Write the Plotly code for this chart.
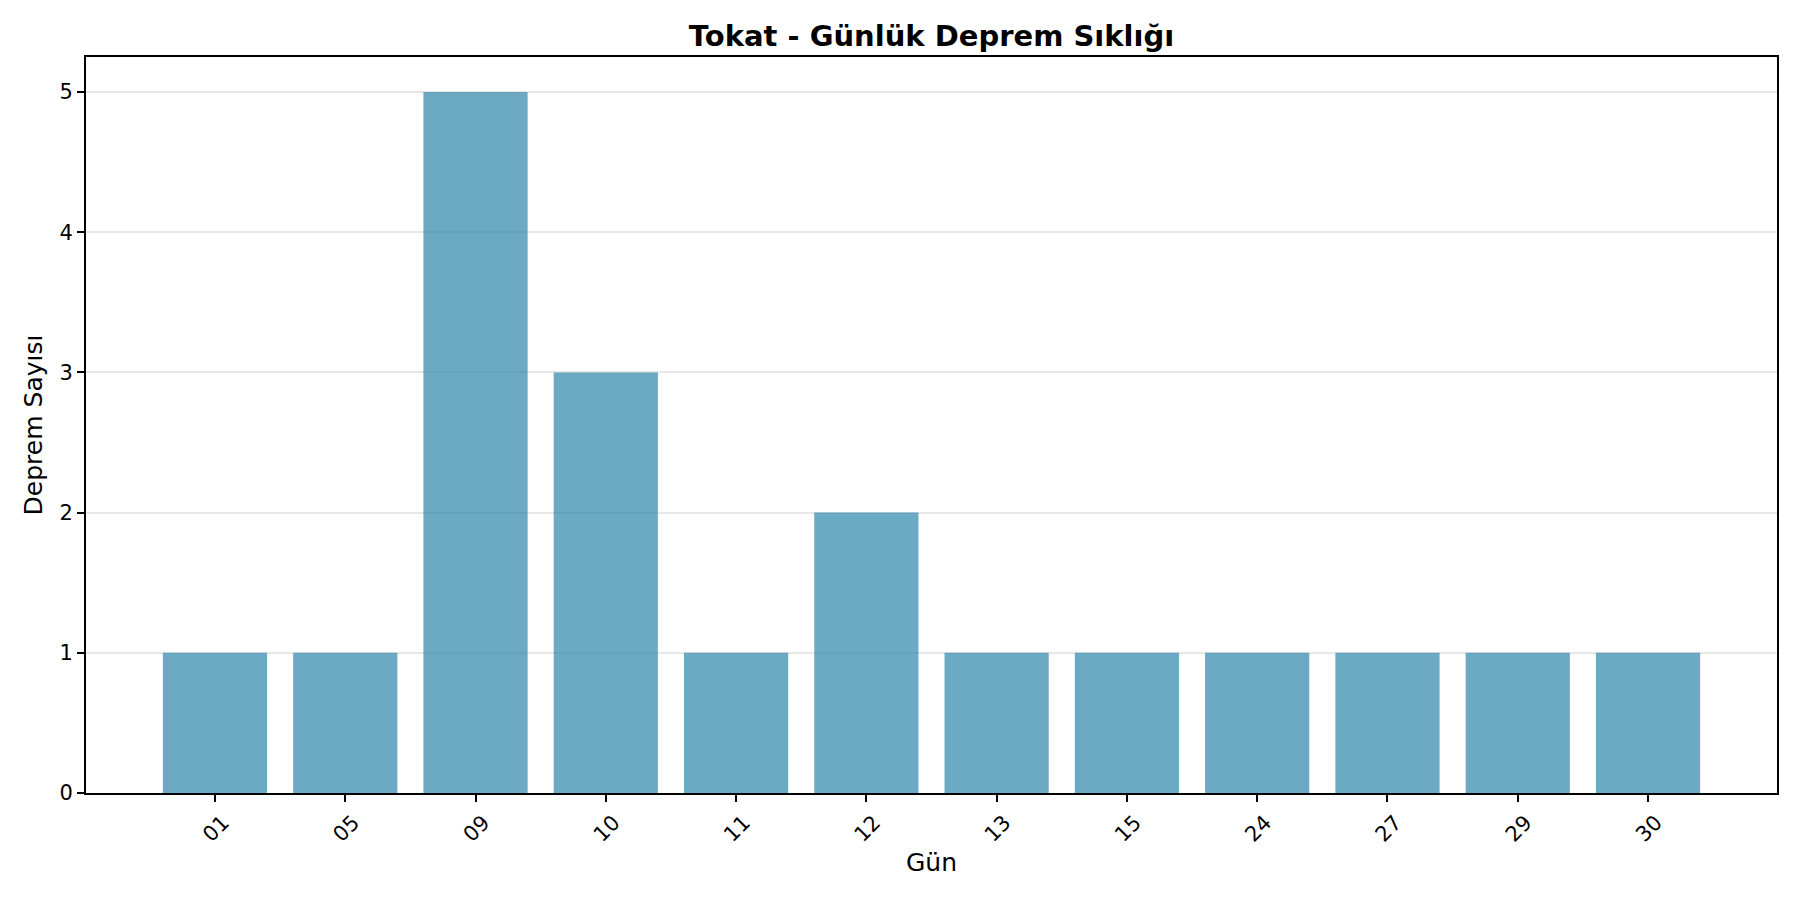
"""
Tokat - günlük deprem sıklığı, çubuk grafik (Plotly).
"""

import plotly.graph_objects as go

# Veriler
gunler = ["01", "05", "09", "10", "11", "12", "13", "15", "24", "27", "29", "30"]
deprem_sayilari = [1, 1, 5, 3, 1, 2, 1, 1, 1, 1, 1, 1]
y_tikler = [0, 1, 2, 3, 4, 5]

FONT = "DejaVu Sans"

fig = go.Figure()

fig.add_trace(go.Bar(
    x=gunler,
    y=deprem_sayilari,
    marker=dict(color="rgba(46,134,171,0.7)", line=dict(width=0)),
    hovertemplate="Gün %{x}<br>Deprem: %{y}<extra></extra>",
))

# sayfanın 8px gövde kenar boşluğu hesaba katıldı
fig.update_layout(
    width=1800,
    height=900,
    paper_bgcolor="white",
    plot_bgcolor="white",
    bargap=0.2,
    showlegend=False,
    margin=dict(l=78, r=31, t=49, b=115),
    font=dict(family=FONT, color="black"),
    title=dict(
        text="<b>Tokat - Günlük Deprem Sıklığı</b>",
        font=dict(family=FONT, size=29, color="black"),
        x=0.5,
        xanchor="center",
        xref="paper",
        y=1 - 28 / 900,
        yanchor="middle",
        yref="container",
    ),
)

fig.update_xaxes(
    type="category",
    range=[-0.99, 11.99],
    showgrid=False,
    zeroline=False,
    showline=True,
    mirror=True,
    linecolor="black",
    linewidth=1.7,
    ticks="outside",
    ticklen=7,
    tickwidth=1.7,
    tickcolor="black",
    tickangle=-45,
    ticklabelshift=8,
    tickfont=dict(family=FONT, size=21, color="black"),
    title=dict(text="Gün", font=dict(family=FONT, size=25, color="black"), standoff=8),
    automargin=False,
)

fig.update_yaxes(
    range=[0, 5.25],
    tickvals=y_tikler,
    showgrid=True,
    gridcolor="#e7e7e7",
    gridwidth=1.7,
    zeroline=False,
    showline=True,
    mirror=True,
    linecolor="black",
    linewidth=1.7,
    ticks="outside",
    ticklen=7,
    tickwidth=1.7,
    tickcolor="black",
    tickfont=dict(family=FONT, size=21, color="black"),
    title=dict(text="Deprem Sayısı", font=dict(family=FONT, size=25, color="black"), standoff=10),
    automargin=False,
)

fig.write_html("out.html")
